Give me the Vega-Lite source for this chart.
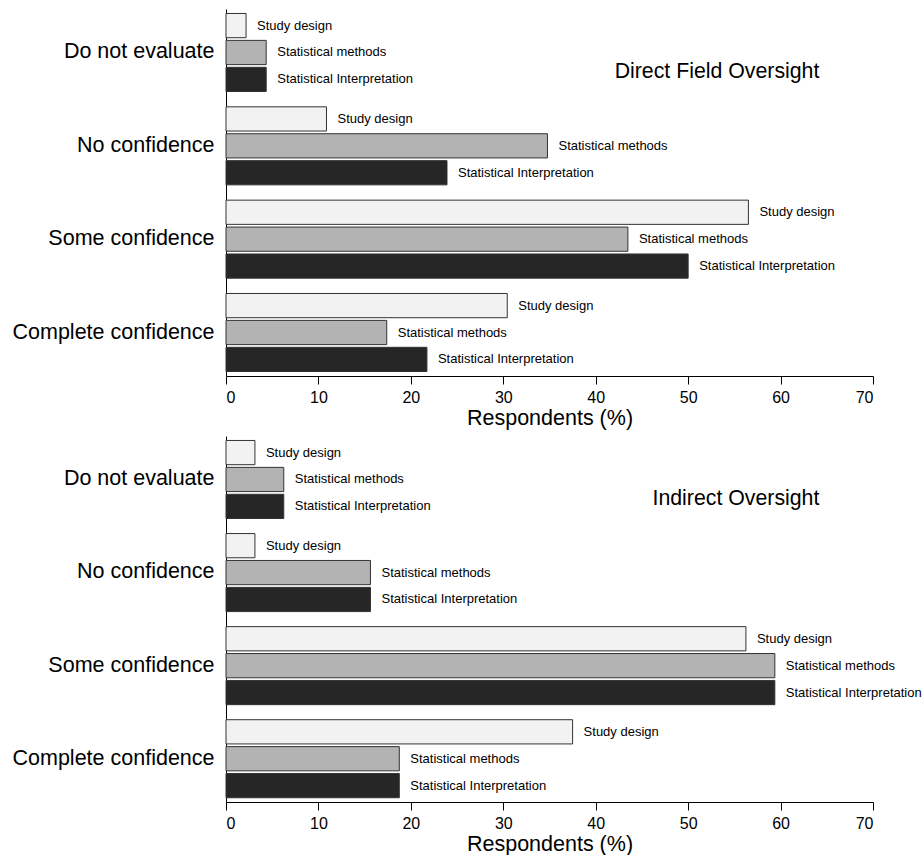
{
  "$schema": "https://vega.github.io/schema/vega-lite/v6.json",
  "padding": {"left": 12, "top": 9, "right": 0, "bottom": 0},
  "background": "white",
  "config": {
    "font": "Liberation Sans",
    "view": {"stroke": null},
    "concat": {"spacing": 7},
    "axis": {"labelColor": "black", "titleColor": "black", "domainColor": "black", "tickColor": "black", "titleFontWeight": "normal", "grid": false}
  },
  "datasets": {
    "bars": [
      {"panel": "Direct", "confidence": "Do not evaluate", "aspect": "Study design", "pct": 2.17},
      {"panel": "Direct", "confidence": "Do not evaluate", "aspect": "Statistical methods", "pct": 4.35},
      {"panel": "Direct", "confidence": "Do not evaluate", "aspect": "Statistical Interpretation", "pct": 4.35},
      {"panel": "Direct", "confidence": "No confidence", "aspect": "Study design", "pct": 10.87},
      {"panel": "Direct", "confidence": "No confidence", "aspect": "Statistical methods", "pct": 34.78},
      {"panel": "Direct", "confidence": "No confidence", "aspect": "Statistical Interpretation", "pct": 23.91},
      {"panel": "Direct", "confidence": "Some confidence", "aspect": "Study design", "pct": 56.52},
      {"panel": "Direct", "confidence": "Some confidence", "aspect": "Statistical methods", "pct": 43.48},
      {"panel": "Direct", "confidence": "Some confidence", "aspect": "Statistical Interpretation", "pct": 50.0},
      {"panel": "Direct", "confidence": "Complete confidence", "aspect": "Study design", "pct": 30.43},
      {"panel": "Direct", "confidence": "Complete confidence", "aspect": "Statistical methods", "pct": 17.39},
      {"panel": "Direct", "confidence": "Complete confidence", "aspect": "Statistical Interpretation", "pct": 21.74},
      {"panel": "Indirect", "confidence": "Do not evaluate", "aspect": "Study design", "pct": 3.13},
      {"panel": "Indirect", "confidence": "Do not evaluate", "aspect": "Statistical methods", "pct": 6.25},
      {"panel": "Indirect", "confidence": "Do not evaluate", "aspect": "Statistical Interpretation", "pct": 6.25},
      {"panel": "Indirect", "confidence": "No confidence", "aspect": "Study design", "pct": 3.13},
      {"panel": "Indirect", "confidence": "No confidence", "aspect": "Statistical methods", "pct": 15.63},
      {"panel": "Indirect", "confidence": "No confidence", "aspect": "Statistical Interpretation", "pct": 15.63},
      {"panel": "Indirect", "confidence": "Some confidence", "aspect": "Study design", "pct": 56.25},
      {"panel": "Indirect", "confidence": "Some confidence", "aspect": "Statistical methods", "pct": 59.38},
      {"panel": "Indirect", "confidence": "Some confidence", "aspect": "Statistical Interpretation", "pct": 59.38},
      {"panel": "Indirect", "confidence": "Complete confidence", "aspect": "Study design", "pct": 37.5},
      {"panel": "Indirect", "confidence": "Complete confidence", "aspect": "Statistical methods", "pct": 18.75},
      {"panel": "Indirect", "confidence": "Complete confidence", "aspect": "Statistical Interpretation", "pct": 18.75}
    ]
  },
  "vconcat": [
    {
      "width": 647,
      "height": 367,
      "layer": [
        {
          "data": {"name": "bars"},
          "transform": [{"filter": "datum.panel == 'Direct'"}],
          "mark": {"type": "bar", "stroke": "#333333", "strokeWidth": 1},
          "encoding": {
            "y": {"field": "confidence", "type": "nominal", "sort": ["Do not evaluate", "No confidence", "Some confidence", "Complete confidence"], "scale": {"paddingInner": 0.164, "paddingOuter": 0.048}, "axis": {"title": null, "labelFontSize": 21.5, "labelLimit": 400, "ticks": false, "labelPadding": 12}},
            "x": {"field": "pct", "type": "quantitative", "scale": {"domain": [0, 70], "nice": false}, "axis": {"title": "Respondents (%)", "values": [0, 10, 20, 30, 40, 50, 60, 70], "labelFontSize": 16, "titleFontSize": 21.5, "tickSize": 8, "labelPadding": 5, "titlePadding": 2}},
            "yOffset": {"field": "aspect", "sort": ["Study design", "Statistical methods", "Statistical Interpretation"], "scale": {"paddingInner": 0.1, "paddingOuter": 0}},
            "color": {"field": "aspect", "scale": {"domain": ["Study design", "Statistical methods", "Statistical Interpretation"], "range": ["#f2f2f2", "#b3b3b3", "#262626"]}, "legend": null}
          }
        },
        {
          "data": {"name": "bars"},
          "transform": [{"filter": "datum.panel == 'Direct'"}],
          "mark": {"type": "text", "align": "left", "dx": 11, "fontSize": 13, "color": "black"},
          "encoding": {
            "y": {"field": "confidence", "type": "nominal", "sort": ["Do not evaluate", "No confidence", "Some confidence", "Complete confidence"]},
            "x": {"field": "pct", "type": "quantitative"},
            "yOffset": {"field": "aspect", "sort": ["Study design", "Statistical methods", "Statistical Interpretation"]},
            "text": {"field": "aspect"}
          }
        },
        {
          "data": {"values": [{"label": "Direct Field Oversight"}]},
          "mark": {"type": "text", "align": "right", "fontSize": 21.3, "dy": 20, "color": "black"},
          "encoding": {
            "x": {"datum": 64.2, "type": "quantitative"},
            "y": {"datum": "Do not evaluate", "type": "nominal"},
            "text": {"field": "label"}
          }
        }
      ]
    },
    {
      "width": 647,
      "height": 366,
      "layer": [
        {
          "data": {"name": "bars"},
          "transform": [{"filter": "datum.panel == 'Indirect'"}],
          "mark": {"type": "bar", "stroke": "#333333", "strokeWidth": 1},
          "encoding": {
            "y": {"field": "confidence", "type": "nominal", "sort": ["Do not evaluate", "No confidence", "Some confidence", "Complete confidence"], "scale": {"paddingInner": 0.164, "paddingOuter": 0.048}, "axis": {"title": null, "labelFontSize": 21.5, "labelLimit": 400, "ticks": false, "labelPadding": 12}},
            "x": {"field": "pct", "type": "quantitative", "scale": {"domain": [0, 70], "nice": false}, "axis": {"title": "Respondents (%)", "values": [0, 10, 20, 30, 40, 50, 60, 70], "labelFontSize": 16, "titleFontSize": 21.5, "tickSize": 8, "labelPadding": 5, "titlePadding": 2}},
            "yOffset": {"field": "aspect", "sort": ["Study design", "Statistical methods", "Statistical Interpretation"], "scale": {"paddingInner": 0.1, "paddingOuter": 0}},
            "color": {"field": "aspect", "scale": {"domain": ["Study design", "Statistical methods", "Statistical Interpretation"], "range": ["#f2f2f2", "#b3b3b3", "#262626"]}, "legend": null}
          }
        },
        {
          "data": {"name": "bars"},
          "transform": [{"filter": "datum.panel == 'Indirect'"}],
          "mark": {"type": "text", "align": "left", "dx": 11, "fontSize": 13, "color": "black"},
          "encoding": {
            "y": {"field": "confidence", "type": "nominal", "sort": ["Do not evaluate", "No confidence", "Some confidence", "Complete confidence"]},
            "x": {"field": "pct", "type": "quantitative"},
            "yOffset": {"field": "aspect", "sort": ["Study design", "Statistical methods", "Statistical Interpretation"]},
            "text": {"field": "aspect"}
          }
        },
        {
          "data": {"values": [{"label": "Indirect Oversight"}]},
          "mark": {"type": "text", "align": "right", "fontSize": 21.3, "dy": 20, "color": "black"},
          "encoding": {
            "x": {"datum": 64.2, "type": "quantitative"},
            "y": {"datum": "Do not evaluate", "type": "nominal"},
            "text": {"field": "label"}
          }
        }
      ]
    }
  ]
}
